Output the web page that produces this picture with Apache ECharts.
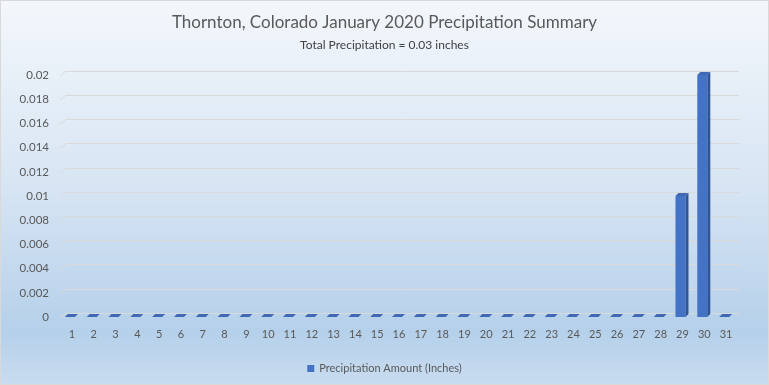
<!DOCTYPE html>
<html><head><meta charset="utf-8">
<script src="https://cdn.jsdelivr.net/npm/echarts@6/dist/echarts.min.js"></script>
<style>html,body{margin:0;padding:0;background:#fff}#c{width:769px;height:385px;box-sizing:border-box;border:1px solid #d9d9d9}</style>
</head><body><div id="c"></div>
<script>
const days = ['1','2','3','4','5','6','7','8','9','10','11','12','13','14','15','16','17','18','19','20','21','22','23','24','25','26','27','28','29','30','31'];
const precip = [0,0,0,0,0,0,0,0,0,0,0,0,0,0,0,0,0,0,0,0,0,0,0,0,0,0,0,0,0.01,0.02,0];
const yTicks = [0,0.002,0.004,0.006,0.008,0.01,0.012,0.014,0.016,0.018,0.02];
const seriesName = 'Precipitation Amount (Inches)';
const titleText = 'Thornton, Colorado January 2020 Precipitation Summary';
const subText = 'Total Precipitation = 0.03 inches';

const FONT = 'Lato';
const chart = echarts.init(document.getElementById('c'));
const D = 3;
function barItem(params, api){
  const idx = api.value(0), v = api.value(1);
  const c = api.coord([idx, v]);
  const b = api.coord([idx, 0]);
  const x0 = c[0]-7, x1 = c[0]+3;
  const children = [];
  if (b[1]-c[1] > 0.5){
    children.push({type:'rect', shape:{x:x0, y:c[1], width:x1-x0, height:b[1]-c[1]}, style:{fill:'#4472c4'}});
    children.push({type:'polygon', shape:{points:[[x1,c[1]],[x1+D,c[1]-D],[x1+D,b[1]-D],[x1,b[1]]]}, style:{fill:'#2f5597'}});
  }
  children.push({type:'polygon', shape:{points:[[x0,c[1]],[x0+D,c[1]-D],[x1+D,c[1]-D],[x1,c[1]]]}, style:{fill:'#3f68b5'}});
  return {type:'group', children};
}
function diagItem(params, api){
  const v = api.value(0);
  const p = api.coord([0, v]);
  const L = params.coordSys.x;
  return {type:'line', shape:{x1:L-1, y1:p[1]+1, x2:L+5, y2:p[1]-4}, style:{stroke:'#d9d9d9', lineWidth:1}};
}
chart.setOption({
  animation:false,
  backgroundColor:{type:'linear', x:0, y:0, x2:0, y2:1, colorStops:[
    {offset:0, color:'#f3f7fb'},{offset:0.5, color:'#d6e4f3'},{offset:0.86, color:'#b5d0ea'},{offset:1, color:'#c8dcf0'}]},
  title:[
    {text:titleText, left:'center', top:8, textStyle:{fontFamily:FONT, fontSize:17, fontWeight:'normal', color:'#595959'}},
    {text:subText, left:'center', top:33, textStyle:{fontFamily:FONT, fontSize:12, fontWeight:'normal', color:'#404040'}}
  ],
  legend:{data:[seriesName], left:'center', top:357, icon:'rect', itemWidth:7, itemHeight:7, itemGap:4,
    textStyle:{fontFamily:FONT, fontSize:11, color:'#595959'}},
  grid:[
    {left:60, right:31, top:74, bottom:67},
    {left:65, right:29, top:70, bottom:71}
  ],
  xAxis:[
    {type:'category', data:days, gridIndex:0, boundaryGap:true,
      axisLine:{show:false}, axisTick:{show:false},
      axisLabel:{fontFamily:FONT, fontSize:11, color:'#595959', margin:12, interval:0}},
    {type:'category', data:days, gridIndex:1, show:false}
  ],
  yAxis:[
    {type:'value', gridIndex:0, min:0, max:0.02, interval:0.002,
      axisLine:{show:false}, axisTick:{show:false}, splitLine:{show:false},
      axisLabel:{fontFamily:FONT, fontSize:11.5, color:'#595959', margin:12}},
    {type:'value', gridIndex:1, min:0, max:0.02, interval:0.002,
      axisLine:{show:false}, axisTick:{show:false}, axisLabel:{show:false},
      splitLine:{show:true, lineStyle:{color:'#d9d9d9', width:1}}}
  ],
  series:[
    {type:'custom', name:'diag', xAxisIndex:0, yAxisIndex:0, renderItem:diagItem,
      data:yTicks.map(v=>[v]), encode:{y:0}, silent:true, z:1},
    {type:'custom', name:seriesName, xAxisIndex:0, yAxisIndex:0, renderItem:barItem,
      itemStyle:{color:'#4472c4'},
      data:precip.map((v,i)=>[i,v]), encode:{x:0, y:1}, z:3}
  ]
});
</script></body></html>
